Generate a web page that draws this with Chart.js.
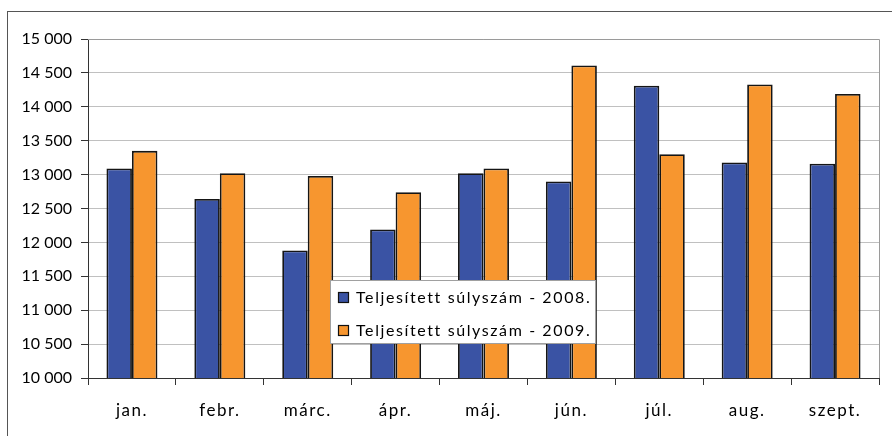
<!DOCTYPE html>
<html>
<head>
<meta charset="utf-8">
<script src="https://cdn.jsdelivr.net/npm/chart.js@4.4.0/dist/chart.umd.min.js"></script>
<style>
  html, body { margin: 0; padding: 0; background: #fff; }
  #wrap { width: 892px; height: 436px; }
</style>
</head>
<body>
<div id="wrap"><canvas id="chart"></canvas></div>
<script>
// Chart data
const months = ['jan.', 'febr.', 'márc.', 'ápr.', 'máj.', 'jún.', 'júl.', 'aug.', 'szept.'];
const weights2008 = [13090, 12640, 11880, 12190, 13020, 12900, 14310, 13180, 13160];
const weights2009 = [13350, 13020, 12980, 12740, 13090, 14610, 13300, 14330, 14190];
const yTicks = [10000, 10500, 11000, 11500, 12000, 12500, 13000, 13500, 14000, 14500, 15000];
const seriesNames = ['Teljesített súlyszám - 2008.', 'Teljesített súlyszám - 2009.'];

// "15 000" style labels
const formatThousands = (v) => {
    const k = Math.floor(v / 1000);
    const rest = String(v % 1000).padStart(3, '0');
    return `${k} ${rest}`;
};

// Outer frame + top/right border of the plot area
const framePlugin = {
    id: 'frame',
    beforeDraw(chart) {
        const ctx = chart.ctx;
        ctx.save();
        ctx.strokeStyle = '#555';
        ctx.lineWidth = 1;
        ctx.strokeRect(7.5, 11.5, 1000, 1000);
        ctx.restore();
    },
    afterDraw(chart) {
        const { ctx, chartArea } = chart;
        ctx.save();
        ctx.strokeStyle = '#9a9a9a';
        ctx.lineWidth = 1;
        ctx.beginPath();
        ctx.moveTo(chartArea.left, chartArea.top + 0.5);
        ctx.lineTo(chartArea.right + 0.5, chartArea.top + 0.5);
        ctx.lineTo(chartArea.right + 0.5, chartArea.bottom);
        ctx.stroke();
        ctx.restore();
    }
};

// Spread out the month labels a bit, like the original
const spacedXLabels = {
    id: 'spacedXLabels',
    afterLayout(chart) {
        const sc = chart.scales.x;
        if (!sc || sc._spaced) return;
        const orig = sc.drawLabels;
        sc.drawLabels = function (area) {
            this.ctx.save();
            this.ctx.letterSpacing = '1.5px';
            orig.call(this, area);
            this.ctx.restore();
        };
        sc._spaced = true;
    }
};

// Legend box floating inside the plot
const boxLegend = {
    id: 'boxLegend',
    afterDraw(chart) {
        const ctx = chart.ctx;
        const x = 330, y = 280, w = 265, h = 63;
        ctx.save();
        ctx.fillStyle = '#fff';
        ctx.fillRect(x, y, w, h);
        ctx.strokeStyle = '#a0a0a0';
        ctx.lineWidth = 1;
        ctx.strokeRect(x + 0.5, y + 0.5, w, h);

        ctx.font = '16px Lato';
        ctx.letterSpacing = '1.6px';
        ctx.textBaseline = 'middle';
        chart.data.datasets.forEach((ds, i) => {
            const cy = y + 17 + i * 33;
            ctx.fillStyle = ds.backgroundColor;
            ctx.fillRect(x + 8, cy - 5, 11, 11);
            ctx.strokeStyle = '#111';
            ctx.lineWidth = 1.2;
            ctx.strokeRect(x + 8.5, cy - 4.5, 10, 10);
            ctx.fillStyle = '#000';
            ctx.fillText(ds.label, x + 26, cy + 1);
        });
        ctx.restore();
    }
};

new Chart(document.getElementById('chart').getContext('2d'), {
    type: 'bar',
    data: {
        labels: months,
        datasets: [
            {
                label: seriesNames[0],
                data: weights2008,
                backgroundColor: '#3A53A4',
                borderColor: '#151515',
                borderWidth: 1.8,
                barPercentage: 1,
                categoryPercentage: 0.58
            },
            {
                label: seriesNames[1],
                data: weights2009,
                backgroundColor: '#F7962F',
                borderColor: '#151515',
                borderWidth: 1.8,
                barPercentage: 1,
                categoryPercentage: 0.58
            }
        ]
    },
    options: {
        responsive: true,
        maintainAspectRatio: false,
        animation: false,
        layout: { padding: { top: 39, right: 13, left: 0, bottom: 0 } },
        plugins: {
            legend: { display: false },
            tooltip: { enabled: false }
        },
        scales: {
            x: {
                afterFit: (s) => { s.height = 58; },
                grid: {
                    offset: true,
                    drawOnChartArea: false,
                    tickLength: 7,
                    tickColor: '#333'
                },
                border: { color: '#333' },
                ticks: {
                    padding: 15,
                    color: '#000',
                    font: { family: 'Lato', size: 17 }
                }
            },
            y: {
                min: 10000,
                max: 15000,
                afterFit: (s) => { s.width = 88; },
                afterBuildTicks: (s) => { s.ticks = yTicks.map(v => ({ value: v })); },
                grid: {
                    color: '#c0c0c0',
                    tickColor: '#333',
                    tickLength: 7
                },
                border: { color: '#333' },
                ticks: {
                    padding: 9,
                    color: '#000',
                    font: { family: 'Lato', size: 16 },
                    callback: (v) => formatThousands(v)
                }
            }
        }
    },
    plugins: [framePlugin, spacedXLabels, boxLegend]
});
</script>
</body>
</html>
